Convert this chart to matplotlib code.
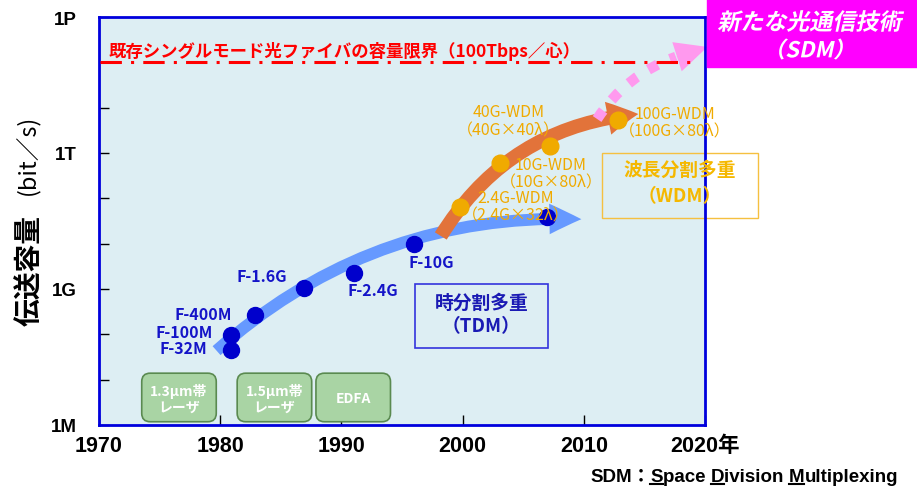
import matplotlib
matplotlib.use('Agg')
import matplotlib.pyplot as plt
from matplotlib import font_manager
from matplotlib.font_manager import FontProperties
from matplotlib.patches import FancyArrowPatch, FancyBboxPatch, Rectangle, PathPatch
from matplotlib.lines import Line2D
from matplotlib.textpath import TextPath
from matplotlib.transforms import Affine2D
from matplotlib.ticker import FixedLocator, NullFormatter

JP = 'Noto Sans CJK JP'
names = {f.name for f in font_manager.fontManager.ttflist}
NARROW = 'Liberation Sans Narrow' if 'Liberation Sans Narrow' in names else 'Liberation Sans'

# TDM systems (blue)
tdm_names = ['F-32M', 'F-100M', 'F-400M', 'F-1.6G', 'F-2.4G', 'F-10G', '']
tdm_years = [1980.9, 1980.9, 1982.9, 1986.9, 1991.0, 1996.0, 2007.0]
tdm_caps = [4.6e7, 9.8e7, 2.7e8, 1.07e9, 2.3e9, 9.8e9, 3.9e10]

# WDM systems (orange)
wdm_names = ['2.4G-WDM\n（2.4G×32λ）', '10G-WDM\n（10G×80λ）',
             '40G-WDM\n（40G×40λ）', '100G-WDM\n（100G×80λ）']
wdm_years = [1999.8, 2003.1, 2007.2, 2012.8]
wdm_caps = [6.3e10, 6.0e11, 1.4e12, 5.4e12]

# capacity limit of existing single mode fibre
limit_cap = 1e14

# trend arrows (start year, start value, end year, end value)
tdm_trend = [1979.7, 10**7.64, 2009.8, 10**10.54]
wdm_trend = [1998.2, 10**10.17, 2014.5, 10**12.86]
sdm_trend = [2011.1, 10**12.75, 2017.6, 10**14.12]
sdm_head = [2017.3, 10**14.09, 2020.2, 10**14.34]

xticks = [1970, 1980, 1990, 2000, 2010, 2020]
xlabels = ['1970', '1980', '1990', '2000', '2010', '2020年']
yticks = [1e6, 1e9, 1e12, 1e15]
ylabels = ['1M', '1G', '1T', '1P']

fig = plt.figure(figsize=(9.17, 4.89), dpi=100)
ax = fig.add_axes([99/917, 63/489, 606/917, 408/489])
ax.set_facecolor('#ddeef3')
ax.set_xlim(1970, 2020)
ax.set_yscale('log')
ax.set_ylim(1e6, 1e15)

for s in ax.spines.values():
    s.set_color('#0000dd')
    s.set_linewidth(2)

ax.set_xticks(xticks, xlabels)
ax.set_yticks(yticks, ylabels)
ax.yaxis.set_minor_locator(FixedLocator([10.0**k for k in range(6, 16)]))
ax.yaxis.set_minor_formatter(NullFormatter())
ax.tick_params(axis='both', which='both', direction='in', length=7, width=1, color='black')
ax.tick_params(axis='x', pad=7)
ax.tick_params(axis='y', pad=16)
for lbl in ax.get_xticklabels():
    lbl.set_fontfamily([NARROW, JP])
    lbl.set_fontsize(15.5)
    lbl.set_fontweight('bold')
for lbl in ax.get_yticklabels():
    lbl.set_fontfamily([NARROW, JP])
    lbl.set_fontsize(13.5)
    lbl.set_fontweight('bold')

# capacity limit line
ax.plot([1970.1, 2019.3], [limit_cap, limit_cap], color='#ff0000', lw=2.2, dashes=(7, 3, 1, 3), zorder=3)
ax.text(0.015, 0.917, '既存シングルモード光ファイバの容量限界（100Tbps／心）', transform=ax.transAxes,
        color='#ff0000', fontsize=12.5, fontweight='bold', family=JP, va='center', ha='left')

# trend arrows
ax.add_patch(FancyArrowPatch(tdm_trend[:2], tdm_trend[2:], connectionstyle='arc3,rad=-0.2',
                             arrowstyle='simple,head_length=23,head_width=22,tail_width=8.6',
                             mutation_scale=1, color='#6699ff', lw=0, shrinkA=0, shrinkB=0, zorder=2))
ax.add_patch(FancyArrowPatch(wdm_trend[:2], wdm_trend[2:], connectionstyle='arc3,rad=-0.25',
                             arrowstyle='simple,head_length=22,head_width=24,tail_width=10',
                             mutation_scale=1, color='#e2733a', lw=0, shrinkA=0, shrinkB=0, zorder=2))
ax.add_patch(FancyArrowPatch(sdm_trend[:2], sdm_trend[2:], connectionstyle='arc3,rad=-0.17',
                             arrowstyle='-', color='#ff99ee', lw=7.5, linestyle=(0, (1, 1.3)),
                             capstyle='butt', shrinkA=0, shrinkB=0, zorder=2, clip_on=False))
ax.add_patch(FancyArrowPatch(sdm_head[:2], sdm_head[2:],
                             arrowstyle='simple,head_length=23,head_width=22,tail_width=0.1',
                             mutation_scale=1, color='#ff99ee', lw=0, shrinkA=0, shrinkB=0,
                             zorder=2, clip_on=False))

# points
ax.plot(tdm_years, tdm_caps, 'o', color='#0000cc', ms=11.5, zorder=4)
ax.plot(wdm_years, wdm_caps, 'o', color='#f0aa00', ms=12, zorder=4)

tdm_label_pos = [(1977.0, 10**7.69), (1977.0, 10**8.06), (1978.6, 10**8.45),
                 (1983.4, 10**9.29), (1992.6, 10**8.98), (1997.4, 10**9.60)]
for name, (lx, ly) in zip(tdm_names, tdm_label_pos):
    ax.text(lx, ly, name, color='#1414c8', fontsize=11.5, fontweight='bold', family=JP,
            ha='center', va='center', zorder=5)

wdm_label_pos = [(2004.4, 10**10.83), (2007.3, 10**11.56), (2003.8, 10**12.71), (2017.5, 10**12.68)]
for name, (lx, ly) in zip(wdm_names, wdm_label_pos):
    ax.text(lx, ly, name, color='#f0aa00', fontsize=11.5, family=JP, ha='center', va='center',
            linespacing=1.05, zorder=5, clip_on=False)

# TDM / WDM boxes
ax.add_patch(Rectangle((0.521, 0.189), 0.22, 0.157, transform=ax.transAxes, fill=False,
                       ec='#3333dd', lw=1.2, zorder=3))
ax.text(0.631, 0.301, '時分割多重', transform=ax.transAxes, color='#1a1ab4', fontsize=13.5,
        fontweight='bold', family=JP, ha='center', va='center')
ax.text(0.631, 0.243, '（TDM）', transform=ax.transAxes, color='#1a1ab4', fontsize=13.5,
        fontweight='bold', family=JP, ha='center', va='center')
ax.add_patch(Rectangle((0.830, 0.507), 0.257, 0.160, transform=ax.transAxes, fill=False,
                       ec='#f5c040', lw=1, zorder=1, clip_on=False))
ax.text(0.959, 0.627, '波長分割多重', transform=ax.transAxes, color='#f5b800', fontsize=13.5,
        fontweight='bold', family=JP, ha='center', va='center', clip_on=False)
ax.text(0.959, 0.561, '（WDM）', transform=ax.transAxes, color='#f5b800', fontsize=13.5,
        fontweight='bold', family=JP, ha='center', va='center', clip_on=False)

# device boxes at the bottom
boxes = [(0.0705, '1.3μm帯\nレーザ'), (0.228, '1.5μm帯\nレーザ'), (0.358, 'EDFA')]
for bx, txt in boxes:
    ax.add_patch(FancyBboxPatch((bx, 0.008), 0.123, 0.119, transform=ax.transAxes,
                                boxstyle='round,pad=0,rounding_size=0.014', mutation_aspect=606/408,
                                fc='#a9d4a4', ec='#5a8a50', lw=1.2, zorder=3))
    ax.text(bx + 0.0615, 0.066, txt, transform=ax.transAxes, color='white', fontsize=10,
            fontweight='bold', family=JP, ha='center', va='center', linespacing=1.2, zorder=4)

# y label
fig.text(30/917, 1 - 271/489, '伝送容量', rotation=90, fontsize=20, fontweight='bold', family=JP,
         ha='center', va='center')
fig.text(28/917, 1 - 155/489, '(bit／s)', rotation=90, fontsize=17, family=JP,
         ha='center', va='center')

# new technology box (top right)
fig.add_artist(Rectangle((707/917, 1 - 68/489), 210/917, 68/489, transform=fig.transFigure,
                         color='#ff00ff', zorder=1))


def slanted_text(s, cx, cy, size_px):
    tp = TextPath((0, 0), s, size=size_px, prop=FontProperties(family=JP, weight='bold'))
    bb = tp.get_extents()
    tr = Affine2D().translate(-(bb.x0 + bb.x1) / 2, -(bb.y0 + bb.y1) / 2).skew_deg(12, 0).translate(cx, 489 - cy)
    fig.add_artist(PathPatch(tp, transform=tr, color='white', lw=0, zorder=2))


slanted_text('新たな光通信技術', 811, 22, 23)
slanted_text('（SDM）', 811, 50, 22)

# SDM footnote with underlined initials
parts = ['SDM：', 'S', 'pace ', 'D', 'ivision ', 'M', 'ultiplexing']
txts = [fig.text(590/917, 1 - 482/489, parts[0], fontsize=13.5, fontweight='bold',
                 family=[NARROW, JP], ha='left', va='baseline')]
for p in parts[1:]:
    txts.append(fig.text(0, 0, p, fontsize=13.5, fontweight='bold', family=[NARROW, JP],
                         ha='left', va='baseline'))

fig.canvas.draw()
r = fig.canvas.get_renderer()
x = txts[0].get_window_extent(r).x1
y0 = txts[0].get_position()[1]
for t in txts[1:]:
    t.set_position((x / 917, y0))
    x += t.get_window_extent(r).width
for i in (1, 3, 5):
    bb = txts[i].get_window_extent(r)
    fig.add_artist(Line2D([bb.x0, bb.x1], [y0 * 489 - 2.5, y0 * 489 - 2.5], color='black', lw=1.5,
                          transform=None))

fig.savefig('out.png', dpi=100)
